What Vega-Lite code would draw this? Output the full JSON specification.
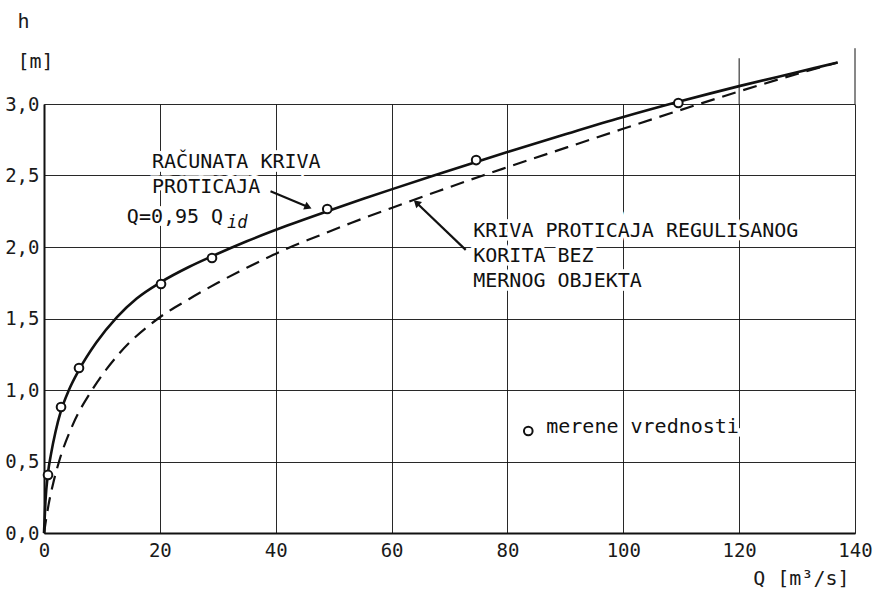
{
  "$schema": "https://vega.github.io/schema/vega-lite/v6.json",
  "width": 811,
  "height": 429,
  "autosize": {"type": "none"},
  "padding": {"left": 44, "top": 104, "right": 29, "bottom": 65},
  "background": "white",
  "config": {
    "view": {"stroke": null},
    "font": "DejaVu Sans Mono",
    "axis": {
      "labelFont": "DejaVu Sans Mono",
      "labelFontSize": 19,
      "labelColor": "#1a1a1a",
      "titleFont": "DejaVu Sans Mono",
      "titleFontSize": 20,
      "titleFontWeight": "normal",
      "titleColor": "#1a1a1a",
      "ticks": false,
      "domainColor": "#111",
      "domainWidth": 2,
      "gridColor": "#111",
      "gridWidth": 1,
      "gridOpacity": 0.9
    }
  },
  "datasets": {
    "solid": [
      {"Q": 0, "h": 0}, {"Q": 0.25, "h": 0.22}, {"Q": 0.69, "h": 0.42}, {"Q": 1.2, "h": 0.55},
      {"Q": 2.0, "h": 0.71}, {"Q": 2.94, "h": 0.855}, {"Q": 4.3, "h": 1.0}, {"Q": 6.04, "h": 1.14},
      {"Q": 9, "h": 1.33}, {"Q": 12.6, "h": 1.51}, {"Q": 16, "h": 1.64}, {"Q": 20.2, "h": 1.755},
      {"Q": 25, "h": 1.86}, {"Q": 29, "h": 1.935}, {"Q": 35, "h": 2.04}, {"Q": 42, "h": 2.15},
      {"Q": 48.9, "h": 2.25}, {"Q": 55, "h": 2.335}, {"Q": 60, "h": 2.403}, {"Q": 67.3, "h": 2.5},
      {"Q": 74.6, "h": 2.595}, {"Q": 80, "h": 2.664}, {"Q": 90, "h": 2.788}, {"Q": 99.7, "h": 2.905},
      {"Q": 109.5, "h": 3.015}, {"Q": 120, "h": 3.125}, {"Q": 130, "h": 3.222}, {"Q": 137, "h": 3.29}
    ],
    "dashed": [
      {"Q": 0, "h": 0}, {"Q": 0.8, "h": 0.2}, {"Q": 1.6, "h": 0.35}, {"Q": 2.6, "h": 0.5},
      {"Q": 5, "h": 0.76}, {"Q": 8.3, "h": 1.0}, {"Q": 13.1, "h": 1.26}, {"Q": 19.7, "h": 1.5},
      {"Q": 25, "h": 1.635}, {"Q": 30, "h": 1.75}, {"Q": 35, "h": 1.855}, {"Q": 39.6, "h": 1.945},
      {"Q": 42, "h": 1.99}, {"Q": 47.2, "h": 2.075}, {"Q": 53, "h": 2.168}, {"Q": 60, "h": 2.273},
      {"Q": 68, "h": 2.39}, {"Q": 75.4, "h": 2.495}, {"Q": 80, "h": 2.558}, {"Q": 90, "h": 2.693},
      {"Q": 99.7, "h": 2.823}, {"Q": 109.5, "h": 2.953}, {"Q": 120, "h": 3.088}, {"Q": 130, "h": 3.21},
      {"Q": 137, "h": 3.29}
    ],
    "measured": [
      {"Q": 0.69, "h": 0.406}, {"Q": 2.94, "h": 0.881}, {"Q": 6.04, "h": 1.154},
      {"Q": 20.2, "h": 1.741}, {"Q": 29.0, "h": 1.923}, {"Q": 48.9, "h": 2.266},
      {"Q": 74.6, "h": 2.608}, {"Q": 109.5, "h": 3.007}, {"Q": 83.6, "h": 0.713}
    ],
    "labels": [
      {"t": "RAČUNATA KRIVA", "Q": 18.65, "h": 2.552},
      {"t": "PROTICAJA", "Q": 18.65, "h": 2.378},
      {"t": "Q=0,95 Q", "Q": 14.3, "h": 2.168},
      {"t": "KRIVA PROTICAJA REGULISANOG", "Q": 74.1, "h": 2.07},
      {"t": "KORITA BEZ", "Q": 74.1, "h": 1.895},
      {"t": "MERNOG OBJEKTA", "Q": 74.1, "h": 1.72},
      {"t": "merene vrednosti", "Q": 86.7, "h": 0.70}
    ],
    "arrows": [
      {"a": "calc", "Q": 39.1, "h": 2.39, "Q2": 45.6, "h2": 2.28},
      {"a": "reg", "Q": 72.8, "h": 1.98, "Q2": 64.3, "h2": 2.31}
    ],
    "extgrid": [
      {"Q": 120, "h": 3.0, "h2": 3.32},
      {"Q": 140, "h": 3.0, "h2": 3.39}
    ]
  },
  "layer": [
    {
      "data": {"name": "extgrid"},
      "mark": {"type": "rule", "color": "#111", "strokeWidth": 1, "clip": false},
      "encoding": {
        "x": {"field": "Q", "type": "quantitative", "scale": {"domain": [0, 140], "nice": false},
          "axis": {"values": [0, 20, 40, 60, 80, 100, 120, 140], "grid": true, "labelPadding": 8, "labelFlush": false,
            "title": "Q [m³/s]", "titleAnchor": "end", "titleAlign": "right", "titleBaseline": "alphabetic", "titleX": 805, "titleY": 51}},
        "y": {"field": "h", "type": "quantitative", "scale": {"domain": [0, 3], "nice": false},
          "axis": {"values": [0, 0.5, 1, 1.5, 2, 2.5, 3], "grid": true, "labelPadding": 5,
            "labelExpr": "replace(format(datum.value, '.1f'), '.', ',')",
            "title": ["h", "[m]"], "titleAngle": 0, "titleAlign": "left", "titleBaseline": "top",
            "titleX": -27, "titleY": -93, "titleLineHeight": 40}},
        "y2": {"field": "h2"}
      }
    },
    {
      "data": {"name": "labels"},
      "mark": {"type": "text", "align": "left", "baseline": "alphabetic", "fontSize": 20, "font": "DejaVu Sans Mono",
        "stroke": "white", "strokeWidth": 7, "fill": "white", "clip": false},
      "encoding": {
        "x": {"field": "Q", "type": "quantitative"},
        "y": {"field": "h", "type": "quantitative"},
        "text": {"field": "t"}
      }
    },
    {
      "data": {"name": "labels"},
      "mark": {"type": "text", "align": "left", "baseline": "alphabetic", "fontSize": 20, "font": "DejaVu Sans Mono",
        "fill": "#111", "clip": false},
      "encoding": {
        "x": {"field": "Q", "type": "quantitative"},
        "y": {"field": "h", "type": "quantitative"},
        "text": {"field": "t"}
      }
    },
    {
      "data": {"values": [{"t": "id", "Q": 31.6, "h": 2.133}]},
      "mark": {"type": "text", "align": "left", "baseline": "alphabetic", "fontSize": 17, "font": "DejaVu Sans Mono",
        "fontStyle": "italic", "fill": "#111", "clip": false},
      "encoding": {
        "x": {"field": "Q", "type": "quantitative"},
        "y": {"field": "h", "type": "quantitative"},
        "text": {"field": "t"}
      }
    },
    {
      "data": {"name": "dashed"},
      "mark": {"type": "line", "interpolate": "monotone", "color": "#111", "strokeWidth": 2.2, "strokeDash": [14, 8], "clip": false},
      "encoding": {
        "x": {"field": "Q", "type": "quantitative"},
        "y": {"field": "h", "type": "quantitative"}
      }
    },
    {
      "data": {"name": "solid"},
      "mark": {"type": "line", "interpolate": "monotone", "color": "#111", "strokeWidth": 2.6, "clip": false},
      "encoding": {
        "x": {"field": "Q", "type": "quantitative"},
        "y": {"field": "h", "type": "quantitative"}
      }
    },
    {
      "data": {"name": "arrows"},
      "mark": {"type": "rule", "color": "#111", "strokeWidth": 2.2},
      "encoding": {
        "x": {"field": "Q", "type": "quantitative"},
        "y": {"field": "h", "type": "quantitative"},
        "x2": {"field": "Q2"},
        "y2": {"field": "h2"}
      }
    },
    {
      "data": {"name": "arrows"},
      "transform": [{"filter": "datum.a === 'calc'"}],
      "mark": {"type": "point", "shape": "triangle-up", "filled": true, "color": "#111", "size": 70, "opacity": 1, "angle": 113},
      "encoding": {
        "x": {"field": "Q2", "type": "quantitative"},
        "y": {"field": "h2", "type": "quantitative"}
      }
    },
    {
      "data": {"name": "arrows"},
      "transform": [{"filter": "datum.a === 'reg'"}],
      "mark": {"type": "point", "shape": "triangle-up", "filled": true, "color": "#111", "size": 70, "opacity": 1, "angle": 313},
      "encoding": {
        "x": {"field": "Q2", "type": "quantitative"},
        "y": {"field": "h2", "type": "quantitative"}
      }
    },
    {
      "data": {"name": "measured"},
      "mark": {"type": "point", "shape": "circle", "filled": false, "fill": "white", "fillOpacity": 1, "stroke": "#111", "strokeWidth": 2, "size": 75, "opacity": 1, "clip": false},
      "encoding": {
        "x": {"field": "Q", "type": "quantitative"},
        "y": {"field": "h", "type": "quantitative"}
      }
    }
  ]
}
